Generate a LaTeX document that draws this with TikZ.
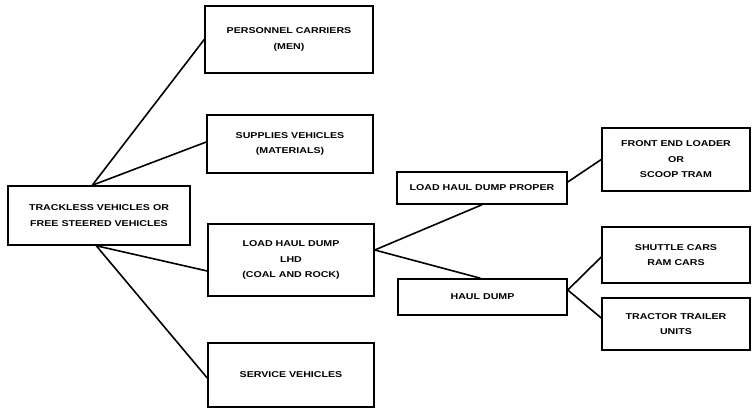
\documentclass[tikz,border=0pt]{standalone}
\usepackage{fontspec}
\newfontfamily\boxfont{Liberation Sans Bold}[FakeStretch=1.25]
\begin{document}
\begin{tikzpicture}[x=1pt,y=-1pt,
  box/.style={draw,line width=1.5pt,rectangle,align=center,inner sep=0pt,
    font=\boxfont\fontsize{8.5}{15.5}\selectfont},
  link/.style={line width=1.6pt}]
\useasboundingbox (0,0) rectangle (753,409);
% left column
\node[box,minimum width=182pt,minimum height=59pt] (root) at (99,215.5)
  {TRACKLESS VEHICLES OR\\FREE STEERED VEHICLES};
% second column
\node[box,minimum width=168pt,minimum height=67pt] (pers) at (289,39.5)
  {PERSONNEL CARRIERS\\(MEN)};
\node[box,minimum width=166pt,minimum height=58pt] (supp) at (290,144)
  {SUPPLIES VEHICLES\\(MATERIALS)};
\node[box,minimum width=166pt,minimum height=72pt] (lhd) at (291,260)
  {LOAD HAUL DUMP\\LHD\\(COAL AND ROCK)};
\node[box,minimum width=166pt,minimum height=64pt] (serv) at (291,375)
  {SERVICE VEHICLES};
% third column
\node[box,minimum width=170pt,minimum height=32pt] (lhp) at (482,188)
  {LOAD HAUL DUMP PROPER};
\node[box,minimum width=169pt,minimum height=36pt] (hd) at (482.5,297)
  {HAUL DUMP};
% fourth column
\node[box,minimum width=148pt,minimum height=63pt] (fel) at (676,159.5)
  {FRONT END LOADER\\OR\\SCOOP TRAM};
\node[box,minimum width=148pt,minimum height=56pt] (shut) at (676,255)
  {SHUTTLE CARS\\RAM CARS};
\node[box,minimum width=148pt,minimum height=52pt] (trac) at (676,324)
  {TRACTOR TRAILER\\UNITS};
% connectors
\draw[link] ([xshift=85pt]root.north west) -- (pers.west);
\draw[link] ([xshift=85pt]root.north west) -- ([yshift=2pt]supp.west);
\draw[link] ([xshift=89pt]root.south west) -- ([yshift=-11pt]lhd.west);
\draw[link] ([xshift=89pt]root.south west) -- ([yshift=-3pt]serv.west);
\draw[link] ([yshift=10pt]lhd.east) -- (lhp.south);
\draw[link] ([yshift=10pt]lhd.east) -- ([xshift=-2pt]hd.north);
\draw[link] ([yshift=6pt]lhp.east) -- (fel.west);
\draw[link] ([yshift=7pt]hd.east) -- ([yshift=-2pt]shut.west);
\draw[link] ([yshift=7pt]hd.east) -- ([yshift=6pt]trac.west);
\end{tikzpicture}
\end{document}
